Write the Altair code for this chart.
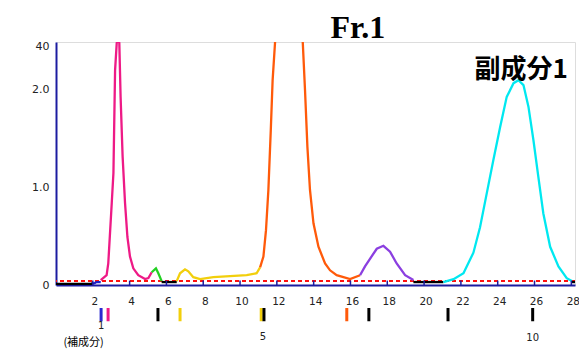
import altair as alt
import pandas as pd

# ---- data ----
seg_names = ["black1", "blue", "pink", "green", "black2", "yellow", "orange", "purple", "black3", "cyan", "black4"]
seg_colors = ["#000000", "#2020c8", "#ee1a86", "#22d022", "#000000", "#f2cf0c", "#ff5a0a", "#8b3fe0", "#000000", "#00e8f0", "#000000"]

black1_x = [0.0, 1.9, 2.0]
black1_y = [0.01, 0.01, 0.02]
blue_x = [1.95, 2.1, 2.2, 2.43]
blue_y = [0.015, 0.02, 0.03, 0.03]
pink_x = [2.43, 2.75, 2.84, 3.03, 3.12, 3.21, 3.30, 3.37, 3.44, 3.51, 3.62, 3.75, 3.88, 4.02, 4.20, 4.47, 4.84, 5.02, 5.20]
pink_y = [0.05, 0.10, 0.22, 0.84, 1.14, 2.19, 2.47, 2.52, 2.47, 1.92, 1.31, 0.84, 0.49, 0.29, 0.17, 0.10, 0.06, 0.07, 0.13]
green_x = [5.20, 5.43, 5.56, 5.74]
green_y = [0.13, 0.17, 0.12, 0.04]
black2_x = [5.74, 6.56]
black2_y = [0.03, 0.03]
yellow_x = [6.56, 6.74, 7.01, 7.19, 7.46, 7.83, 8.55, 9.46, 10.36, 10.9, 11.09]
yellow_y = [0.04, 0.12, 0.16, 0.14, 0.08, 0.06, 0.08, 0.09, 0.10, 0.12, 0.18]
orange_x = [11.09, 11.27, 11.41, 11.54, 11.67, 11.77, 11.9, 12.2, 12.65, 13.1, 13.41, 13.53, 13.66, 13.80, 13.99, 14.26, 14.62, 14.89, 15.25, 15.98, 16.52]
orange_y = [0.18, 0.29, 0.56, 0.97, 1.58, 2.09, 2.47, 3.3, 3.7, 3.3, 2.47, 1.99, 1.41, 0.97, 0.63, 0.39, 0.22, 0.15, 0.10, 0.06, 0.10]
purple_x = [16.52, 16.79, 17.07, 17.43, 17.79, 18.15, 18.51, 18.97, 19.42]
purple_y = [0.10, 0.19, 0.27, 0.37, 0.40, 0.34, 0.22, 0.10, 0.05]
black3_x = [19.42, 21.05]
black3_y = [0.03, 0.03]
cyan_x = [21.05, 21.6, 22.14, 22.68, 23.04, 23.41, 23.77, 24.13, 24.49, 24.86, 25.13, 25.4, 25.67, 25.94, 26.21, 26.48, 26.85, 27.30, 27.75, 28.03]
cyan_y = [0.03, 0.06, 0.12, 0.33, 0.59, 0.94, 1.28, 1.61, 1.92, 2.06, 2.09, 2.04, 1.82, 1.48, 1.10, 0.73, 0.39, 0.19, 0.07, 0.04]
black4_x = [28.03, 28.6]
black4_y = [0.03, 0.03]

baseline_level = [0.04]
x_ticks = [2, 4, 6, 8, 10, 12, 14, 16, 18, 20, 22, 24, 26, 28]
x_tick_labels = ["2", "4", "6", "8", "10", "12", "14", "16", "18", "20", "22", "24", "26", "28"]
x_label_level = -0.175
y_ticks = [0, 1, 2, 2.43]

marker_x = [2.45, 2.83, 5.54, 6.74, 11.15, 11.3, 15.8, 17.0, 21.3, 25.9]
marker_color = ["#2a2ad0", "#ee1a86", "#000000", "#f2cf0c", "#f2cf0c", "#000000", "#ff5a0a", "#000000", "#000000", "#000000"]
marker_top = -0.235
marker_bottom = -0.37

frac_labels = ["1", "5", "10"]
frac_x = [2.45, 11.25, 25.9]
frac_y = [-0.415, -0.53, -0.54]

# ---- build tables ----
segs = {
    "black1": (black1_x, black1_y), "blue": (blue_x, blue_y), "pink": (pink_x, pink_y),
    "green": (green_x, green_y), "black2": (black2_x, black2_y), "yellow": (yellow_x, yellow_y),
    "orange": (orange_x, orange_y), "purple": (purple_x, purple_y), "black3": (black3_x, black3_y),
    "cyan": (cyan_x, cyan_y), "black4": (black4_x, black4_y),
}
rows = []
for name in seg_names:
    xs, ys = segs[name]
    for i, (a, b) in enumerate(zip(xs, ys)):
        rows.append({"seg": name, "x": a, "y": b, "o": i})
trace = pd.DataFrame(rows)

xscale = alt.Scale(domain=[0, 28.2], nice=False, zero=False)
yscale = alt.Scale(domain=[0, 2.48], nice=False, zero=False)

AXIS_BLUE = "#1c1ca0"

lines = alt.Chart(trace).mark_line(strokeWidth=2.3, clip=True).encode(
    x=alt.X("x:Q", scale=xscale,
            axis=alt.Axis(values=x_ticks, title=None, grid=False, ticks=False, labels=False,
                          domainColor=AXIS_BLUE, domainWidth=2)),
    y=alt.Y("y:Q", scale=yscale,
            axis=alt.Axis(values=y_ticks, title=None, grid=False, ticks=False, domainColor=AXIS_BLUE,
                          domainWidth=2, labelFontSize=11, labelColor="#222", labelPadding=7,
                          labelOverlap=False, labelFont="DejaVu Sans",
                          labelExpr="datum.value == 0 ? '0' : datum.value == 1 ? '1.0' : datum.value == 2 ? '2.0' : '40'")),
    color=alt.Color("seg:N", scale=alt.Scale(domain=seg_names, range=seg_colors), legend=None),
    detail="seg:N",
    order="o:Q",
)

base_df = pd.DataFrame({"b": baseline_level})
base_rule = alt.Chart(base_df).mark_rule(color="#ff1010", strokeWidth=2, strokeDash=[4, 3]).encode(
    y=alt.Y("b:Q", scale=yscale)
)

tick_df = pd.DataFrame({"t": x_ticks, "lab": x_tick_labels,
                        "y0": [0] * len(x_ticks), "y1": [0.045] * len(x_ticks),
                        "yl": [x_label_level] * len(x_ticks)})
tick_rules = alt.Chart(tick_df).mark_rule(color=AXIS_BLUE, strokeWidth=1.5).encode(
    x=alt.X("t:Q", scale=xscale), y=alt.Y("y0:Q", scale=yscale), y2="y1:Q"
)
tick_labels = alt.Chart(tick_df).mark_text(fontSize=10.5, color="#222", font="DejaVu Sans", dx=2).encode(
    x=alt.X("t:Q", scale=xscale), y=alt.Y("yl:Q", scale=yscale), text="lab:N"
)

mk_df = pd.DataFrame({"x": marker_x, "c": marker_color,
                      "y0": [marker_top] * len(marker_x), "y1": [marker_bottom] * len(marker_x)})
markers = alt.Chart(mk_df).mark_rule(strokeWidth=3).encode(
    x=alt.X("x:Q", scale=xscale), y=alt.Y("y0:Q", scale=yscale), y2="y1:Q",
    color=alt.Color("c:N", scale=None),
)

fl_df = pd.DataFrame({"x": frac_x, "y": frac_y, "t": frac_labels})
frac_text = alt.Chart(fl_df).mark_text(fontSize=10, color="#222", font="DejaVu Sans").encode(
    x=alt.X("x:Q", scale=xscale), y=alt.Y("y:Q", scale=yscale), text="t:N"
)

ann_df = pd.DataFrame({"x": [16.4], "y": [2.62], "t": ["Fr.1"]})
title_text = alt.Chart(ann_df).mark_text(fontSize=32, fontWeight="bold", font="Liberation Serif", color="#000").encode(
    x=alt.X("x:Q", scale=xscale), y=alt.Y("y:Q", scale=yscale), text="t:N"
)

peak_df = pd.DataFrame({"x": [25.27], "y": [2.19], "t": ["副成分1"]})
peak_text = alt.Chart(peak_df).mark_text(fontSize=26, font="Noto Sans CJK JP", fontWeight="bold", color="#000").encode(
    x=alt.X("x:Q", scale=xscale), y=alt.Y("y:Q", scale=yscale), text="t:N"
)

note_df = pd.DataFrame({"x": [1.5], "y": [-0.59], "t": ["(補成分)"]})
note_text = alt.Chart(note_df).mark_text(fontSize=11, font="Noto Sans CJK JP", color="#000").encode(
    x=alt.X("x:Q", scale=xscale), y=alt.Y("y:Q", scale=yscale), text="t:N"
)

chart = alt.layer(
    base_rule, lines, tick_rules, tick_labels, markers, frac_text, title_text, peak_text, note_text
).properties(
    width=519, height=243,
    autosize=alt.AutoSizeParams(type="none"),
    padding={"left": 48, "top": 34, "right": 4, "bottom": 64},
).configure_view(stroke=None).configure(background="white")

chart.save("out.html", embed_options={"renderer": "svg", "actions": False})
